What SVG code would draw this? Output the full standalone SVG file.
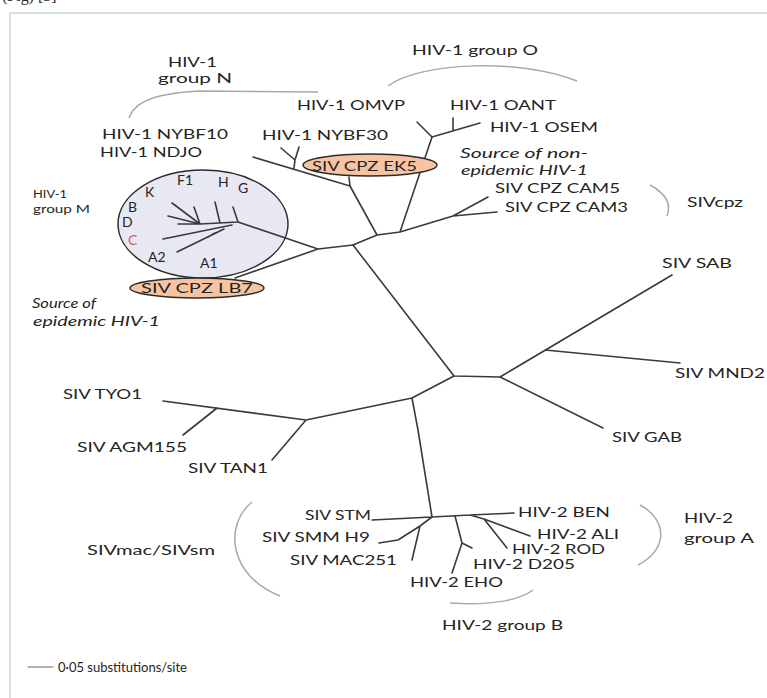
<svg xmlns="http://www.w3.org/2000/svg" width="767" height="698" viewBox="0 0 767 698">
<style>
text{font-family:Lato,"Open Sans","Liberation Sans",sans-serif;font-size:14px;fill:#242424}
.it{font-style:italic}
.sm{font-size:12px}
.br{fill:none;stroke:#a8a8a8;stroke-width:1.5}
.e{stroke:#3a3a3a;stroke-width:1.6;fill:none;stroke-linecap:round;stroke-linejoin:round}
.ov{fill:#f6c4a2;stroke:#2b2b2b;stroke-width:1.5}
</style>
<rect width="767" height="698" fill="#fff"/>
<text x="2" y="1" style="font-family:'Liberation Serif',serif;font-size:16px">(Fig) [5]</text>
<rect x="10" y="13" width="770" height="700" fill="none" stroke="#d2e3df" stroke-width="2"/>

<g id="groupM-circle">
<ellipse cx="203" cy="224" rx="85" ry="54" fill="#e8e8f3" stroke="#2b2b2b" stroke-width="1.5"/>
</g>

<g id="connectors">
<path class="e" d="M353,245 L454,376 L500,377 L672,275 M545,350 L680,363 M500,377 L603,428"/>
<path class="e" d="M454,376 L412,398 L306,420 L163,401 M217,408 L183,435 M306,420 L272,460 M412,398 L418,430 L432,517"/>
<path class="e" d="M353,245 L318,249 L238,222 M318,249 L235,278"/>
<path class="e" d="M353,245 L377,235 L350,186 L349,177 M350,186 L253,157 M294,168 L295,160 L281,148 M295,160 L299,147"/>
<path class="e" d="M377,235 L400,232 L432,137 L417,122 M432,137 L480,123 M453,118 L453,131 M400,232 L453,216 L497,212 M453,216 L488,197"/>
<path class="e" d="M238,222 L233,207 M238,222 L200,224 L172,203 M200,224 L168,216 M200,224 L178,224 M200,224 L194,207 M220,223 L215,202 M232,225 L163,239 M224,229 L177,252 M208,237 L215,233"/>
<path class="e" d="M372,520 L432,517 L470,515 L514,513 M432,517 L420,526 L398,540 L379,543 M420,526 L412,560 M470,515 L484,519 L530,536 M484,519 L507,548 M455,516 L462,543 L472,548 M462,543 L452,573"/>
<path class="e" d="M28,667 L53,667" style="stroke:#666;stroke-width:1.2"/>
</g>

<g id="brackets">
<path class="br" d="M129,118 C135,100 160,93 200,91 L318,92"/>
<path class="br" d="M388,86 C420,62 520,58 577,81"/>
<path class="br" d="M650,185 Q674,198 667,216"/>
<path class="br" d="M252,502 C224,525 228,575 280,596"/>
<path class="br" d="M640,505 C668,520 668,550 638,565"/>
<path class="br" d="M450,603 C490,606 520,600 533,590"/>
</g>

<g id="ovals">
<ellipse class="ov" cx="370" cy="165" rx="67" ry="11"/>
<ellipse class="ov" cx="197" cy="288" rx="67" ry="10"/>
</g>

<g id="labels">
<g id="n-groupN"><text x="168" y="67" textLength="49" lengthAdjust="spacingAndGlyphs">HIV-1</text><text x="158" y="83" textLength="74" lengthAdjust="spacingAndGlyphs">group N</text></g>
<g id="n-groupO"><text x="412" y="55" textLength="126" lengthAdjust="spacingAndGlyphs">HIV-1 group O</text></g>
<g id="n-omvp"><text x="297" y="110" textLength="108" lengthAdjust="spacingAndGlyphs">HIV-1 OMVP</text></g>
<g id="n-oant"><text x="450" y="110" textLength="106" lengthAdjust="spacingAndGlyphs">HIV-1 OANT</text></g>
<g id="n-osem"><text x="490" y="132" textLength="108" lengthAdjust="spacingAndGlyphs">HIV-1 OSEM</text></g>
<g id="n-nybf10"><text x="102" y="139" textLength="126" lengthAdjust="spacingAndGlyphs">HIV-1 NYBF10</text></g>
<g id="n-ndjo"><text x="100" y="157" textLength="102" lengthAdjust="spacingAndGlyphs">HIV-1 NDJO</text></g>
<g id="n-nybf30"><text x="262" y="140" textLength="126" lengthAdjust="spacingAndGlyphs">HIV-1 NYBF30</text></g>
<g id="n-ek5"><text x="312" y="171" textLength="105" lengthAdjust="spacingAndGlyphs">SIV CPZ EK5</text></g>
<g id="n-nonepi"><text class="it" x="460" y="158" textLength="128" lengthAdjust="spacingAndGlyphs">Source of non-</text><text class="it" x="461" y="175" textLength="127" lengthAdjust="spacingAndGlyphs">epidemic HIV-1</text></g>
<g id="n-cam5"><text x="495" y="193" textLength="125" lengthAdjust="spacingAndGlyphs">SIV CPZ CAM5</text></g>
<g id="n-cam3"><text x="505" y="212" textLength="123" lengthAdjust="spacingAndGlyphs">SIV CPZ CAM3</text></g>
<g id="n-sivcpz"><text x="687" y="207" textLength="56" lengthAdjust="spacingAndGlyphs">SIVcpz</text></g>
<g id="n-sab"><text x="662" y="268" textLength="70" lengthAdjust="spacingAndGlyphs">SIV SAB</text></g>
<g id="n-mnd2"><text x="675" y="378" textLength="90" lengthAdjust="spacingAndGlyphs">SIV MND2</text></g>
<g id="n-gab"><text x="612" y="442" textLength="70" lengthAdjust="spacingAndGlyphs">SIV GAB</text></g>
<g id="n-tyo1"><text x="63" y="399" textLength="79" lengthAdjust="spacingAndGlyphs">SIV TYO1</text></g>
<g id="n-agm155"><text x="77" y="452" textLength="110" lengthAdjust="spacingAndGlyphs">SIV AGM155</text></g>
<g id="n-tan1"><text x="188" y="473" textLength="80" lengthAdjust="spacingAndGlyphs">SIV TAN1</text></g>
<g id="n-lb7"><text x="141" y="293" textLength="112" lengthAdjust="spacingAndGlyphs">SIV CPZ LB7</text></g>
<g id="n-epi"><text class="it" x="32" y="308" textLength="64" lengthAdjust="spacingAndGlyphs">Source of</text><text class="it" x="33" y="326" textLength="127" lengthAdjust="spacingAndGlyphs">epidemic HIV-1</text></g>
<g id="n-groupM"><text class="sm" x="33" y="198" textLength="34" lengthAdjust="spacingAndGlyphs">HIV-1</text><text class="sm" x="33" y="213" textLength="57" lengthAdjust="spacingAndGlyphs">group M</text></g>
<g id="n-subtypes">
<text x="145" y="197">K</text><text x="177" y="185">F1</text><text x="218" y="187">H</text><text x="238" y="193">G</text>
<text x="128" y="212">B</text><text x="122" y="227">D</text><text x="128" y="245" style="fill:#d06060">C</text>
<text x="148" y="262">A2</text><text x="200" y="268">A1</text>
</g>
<g id="n-sivmac"><text x="87" y="555" textLength="128" lengthAdjust="spacingAndGlyphs">SIVmac/SIVsm</text></g>
<g id="n-stm"><text x="305" y="520" textLength="66" lengthAdjust="spacingAndGlyphs">SIV STM</text></g>
<g id="n-smmh9"><text x="262" y="542" textLength="108" lengthAdjust="spacingAndGlyphs">SIV SMM H9</text></g>
<g id="n-mac251"><text x="290" y="565" textLength="107" lengthAdjust="spacingAndGlyphs">SIV MAC251</text></g>
<g id="n-ben"><text x="518" y="517" textLength="92" lengthAdjust="spacingAndGlyphs">HIV-2 BEN</text></g>
<g id="n-ali"><text x="537" y="539" textLength="82" lengthAdjust="spacingAndGlyphs">HIV-2 ALI</text></g>
<g id="n-rod"><text x="512" y="554" textLength="93" lengthAdjust="spacingAndGlyphs">HIV-2 ROD</text></g>
<g id="n-d205"><text x="473" y="569" textLength="102" lengthAdjust="spacingAndGlyphs">HIV-2 D205</text></g>
<g id="n-eho"><text x="410" y="587" textLength="93" lengthAdjust="spacingAndGlyphs">HIV-2 EHO</text></g>
<g id="n-groupB"><text x="442" y="630" textLength="121" lengthAdjust="spacingAndGlyphs">HIV-2 group B</text></g>
<g id="n-groupA"><text x="684" y="523" textLength="49" lengthAdjust="spacingAndGlyphs">HIV-2</text><text x="684" y="543" textLength="70" lengthAdjust="spacingAndGlyphs">group A</text></g>
<g id="scale"><text x="58" y="672" style="font-size:13px">0·05 substitutions/site</text></g>
</g>
</svg>
